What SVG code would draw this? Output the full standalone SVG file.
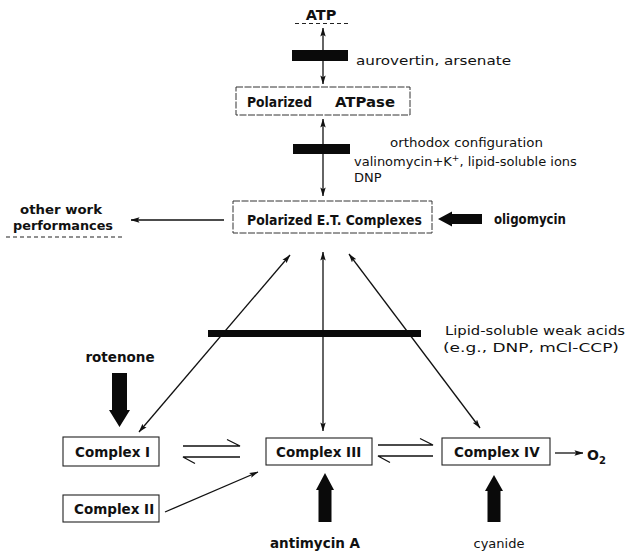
<svg xmlns="http://www.w3.org/2000/svg" width="642" height="553" viewBox="0 0 642 553">
  <style>
    text { font-family: "DejaVu Sans", "Liberation Sans", sans-serif; fill: #111; }
    .b { font-weight: bold; }
    .lbl { font-size: 13.5px; font-weight: bold; }
    .med { font-size: 13px; }
    .box { fill: #fff; stroke: #222; stroke-width: 1.1; }
    .pbox { fill: #fff; stroke: #333; stroke-width: 1; stroke-dasharray: 7 1.5; }
    .ln { fill: none; stroke: #111; stroke-width: 1.3; }
    .dash { fill: none; stroke: #222; stroke-width: 1.2; stroke-dasharray: 4 3; }
    .blk { fill: #0a0a0a; }
  </style>
  <defs>
    <marker id="ah" viewBox="0 0 10 6" refX="9.5" refY="3" markerWidth="9" markerHeight="6" markerUnits="userSpaceOnUse" orient="auto-start-reverse">
      <path d="M0,0 L10,3 L0,6 L2,3 z" fill="#111"/>
    </marker>
  </defs>

  <!-- ATP pool -->
  <g id="atp">
    <text class="b" x="321" y="20" font-size="14.5" text-anchor="middle">ATP</text>
    <line class="dash" x1="295" y1="23.5" x2="348" y2="23.5"/>
  </g>

  <!-- Polarized ATPase -->
  <g id="atpase">
    <rect class="pbox" x="236" y="87" width="174" height="28"/>
    <text class="lbl" x="247" y="107" textLength="65" lengthAdjust="spacingAndGlyphs">Polarized</text>
    <text class="lbl" x="335" y="107" textLength="60" lengthAdjust="spacingAndGlyphs">ATPase</text>
  </g>

  <!-- Polarized E.T. Complexes -->
  <g id="et">
    <rect class="pbox" x="233" y="201" width="199" height="32"/>
    <text class="lbl" x="247" y="225" textLength="175" lengthAdjust="spacingAndGlyphs">Polarized E.T. Complexes</text>
  </g>

  <!-- other work -->
  <g id="work">
    <text class="b" x="61" y="214" font-size="12.5" text-anchor="middle" textLength="82" lengthAdjust="spacingAndGlyphs">other work</text>
    <text class="b" x="63" y="230" font-size="12.5" text-anchor="middle" textLength="100" lengthAdjust="spacingAndGlyphs">performances</text>
    <line class="dash" x1="6" y1="237" x2="123" y2="237"/>
  </g>

  <!-- respiratory chain complexes -->
  <g id="c1">
    <rect class="box" x="63" y="437" width="96" height="29"/>
    <text class="lbl" x="75" y="457">Complex I</text>
  </g>
  <g id="c2">
    <rect class="box" x="63" y="495" width="96" height="27"/>
    <text class="lbl" x="74" y="514">Complex II</text>
  </g>
  <g id="c3">
    <rect class="box" x="266" y="438" width="106" height="27"/>
    <text class="lbl" x="276" y="457">Complex III</text>
  </g>
  <g id="c4">
    <rect class="box" x="442" y="438" width="108" height="27"/>
    <text class="lbl" x="454" y="457">Complex IV</text>
  </g>
  <g id="o2">
    <text class="b" x="587" y="460" font-size="14">O<tspan font-size="10" dy="4">2</tspan></text>
  </g>

  <!-- connectors -->
  <g id="connectors">
    <line class="ln" x1="323" y1="28" x2="323" y2="84" marker-start="url(#ah)" marker-end="url(#ah)"/>
    <line class="ln" x1="323" y1="119" x2="323" y2="196" marker-start="url(#ah)" marker-end="url(#ah)"/>
    <line class="ln" x1="224" y1="220" x2="131" y2="220" marker-end="url(#ah)"/>
    <line class="ln" x1="290" y1="255" x2="139" y2="432" marker-start="url(#ah)" marker-end="url(#ah)"/>
    <line class="ln" x1="323" y1="252" x2="323" y2="431" marker-start="url(#ah)" marker-end="url(#ah)"/>
    <line class="ln" x1="349" y1="254" x2="480" y2="428" marker-start="url(#ah)" marker-end="url(#ah)"/>
    <line class="ln" x1="165" y1="512" x2="258" y2="472" marker-end="url(#ah)"/>
    <line class="ln" x1="555" y1="453" x2="583" y2="453" marker-end="url(#ah)"/>
    <!-- equilibrium half-arrows -->
    <path class="ln" d="M183,446 H240 L227,439.5"/>
    <path class="ln" d="M240,457 H183 L195,463.5"/>
    <path class="ln" d="M378,445 H433 L420,438.5"/>
    <path class="ln" d="M433,456 H378 L390,462.5"/>
  </g>

  <!-- inhibition bars -->
  <g id="bars">
    <rect class="blk" x="292" y="50" width="56" height="11"/>
    <rect class="blk" x="293" y="144" width="57" height="10"/>
    <rect class="blk" x="208" y="330" width="213" height="7"/>
  </g>

  <!-- inhibitor block arrows -->
  <g id="inhibitors">
    <polygon class="blk" points="438,219 452,211.5 452,214 482,214 482,224 452,224 452,226.5"/>
    <polygon class="blk" points="112,373 127,373 127,410 130,410 119.5,427 109,410 112,410"/>
    <polygon class="blk" points="325,473 334,490 331.5,490 331.5,522 318.5,522 318.5,490 316,490"/>
    <polygon class="blk" points="494,475 503,491 500.5,491 500.5,522 487.5,522 487.5,491 485,491"/>
  </g>

  <!-- inhibitor labels -->
  <g id="labels">
    <text class="med" x="356" y="65" textLength="155" lengthAdjust="spacingAndGlyphs">aurovertin, arsenate</text>
    <text class="med" x="390" y="147" textLength="153" lengthAdjust="spacingAndGlyphs">orthodox configuration</text>
    <text class="med" x="354" y="166">valinomycin+K<tspan font-size="9" dy="-5">+</tspan><tspan dy="5">, lipid-soluble ions</tspan></text>
    <text class="med" x="354" y="182">DNP</text>
    <text class="b" x="494" y="224" font-size="13.5" textLength="72" lengthAdjust="spacingAndGlyphs">oligomycin</text>
    <text x="445" y="335" font-size="13" textLength="180" lengthAdjust="spacingAndGlyphs">Lipid-soluble weak acids</text>
    <text x="443" y="352" font-size="13" textLength="176" lengthAdjust="spacingAndGlyphs">(e.g., DNP, mCl-CCP)</text>
    <text class="b" x="120" y="362" font-size="13.5" text-anchor="middle">rotenone</text>
    <text class="b" x="315" y="548" font-size="13.5" text-anchor="middle">antimycin A</text>
    <text class="med" x="499" y="548" text-anchor="middle">cyanide</text>
  </g>
</svg>
